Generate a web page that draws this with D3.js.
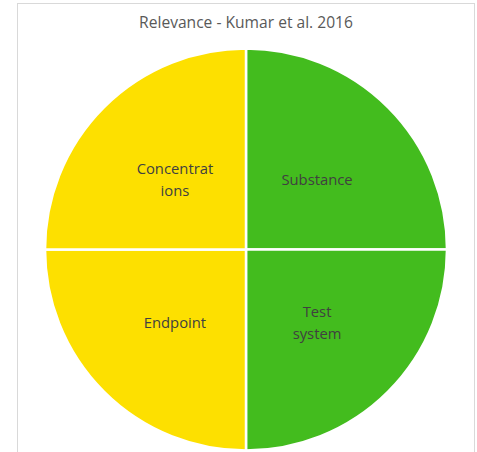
<!DOCTYPE html>
<html>
<head>
<meta charset="utf-8">
<script src="https://cdn.jsdelivr.net/npm/d3@7"></script>
<style>
  body { margin: 0; background: #fff; }
  text { font-family: "Open Sans", "Noto Sans", sans-serif; }
</style>
</head>
<body>
<div id="chart"></div>
<script>
// Chart data
const categories = ["Substance", "Test system", "Endpoint", "Concentrations"];
const values = [1, 1, 1, 1];
const labelLines = [["Substance"], ["Test", "system"], ["Endpoint"], ["Concentrat", "ions"]];
const colors = ["#43bc1e", "#43bc1e", "#fde000", "#fde000"];
const title = "Relevance - Kumar et al. 2016";

// Layout constants
const w = 477;
const h = 452;
const cx = 246;
const cy = 249.5;
const r = 201;

const svg = d3.select("#chart")
              .append("svg")
              .attr("width", w)
              .attr("height", h);

// chart frame
svg.append("rect")
   .attr("x", 17.5)
   .attr("y", 3.5)
   .attr("width", 457)
   .attr("height", 460)
   .attr("fill", "none")
   .attr("stroke", "#d9d9d9")
   .attr("stroke-width", 1);

svg.append("text")
   .attr("x", cx)
   .attr("y", 28)
   .attr("text-anchor", "middle")
   .attr("font-size", 15.6)
   .attr("fill", "#595959")
   .text(title);

const rows = categories.map((c, i) => ({ name: c, value: values[i], lines: labelLines[i], color: colors[i] }));

const pie = d3.pie()
              .sort(null)
              .value(d => d.value);

const arc = d3.arc()
              .innerRadius(0)
              .outerRadius(r);

const g = svg.append("g")
             .attr("transform", `translate(${cx},${cy})`);

const slices = g.selectAll("g.slice")
                .data(pie(rows))
                .enter()
                .append("g")
                .attr("class", "slice");

slices.append("path")
      .attr("d", arc)
      .attr("fill", d => d.data.color)
      .attr("stroke", "#fff")
      .attr("stroke-width", 2.5);

// labels at the centroid of each slice
const lineH = 22;
slices.each(function(d) {
    const [x, y] = arc.centroid(d);
    const lines = d.data.lines;
    const t = d3.select(this)
                .append("text")
                .attr("text-anchor", "middle")
                .attr("font-size", 14.8)
                .attr("fill", "#404040");
    lines.forEach((line, i) => {
        t.append("tspan")
         .attr("x", x)
         .attr("y", y + (i - (lines.length - 1) / 2) * lineH + 7)
         .text(line);
    });
});
</script>
</body>
</html>
